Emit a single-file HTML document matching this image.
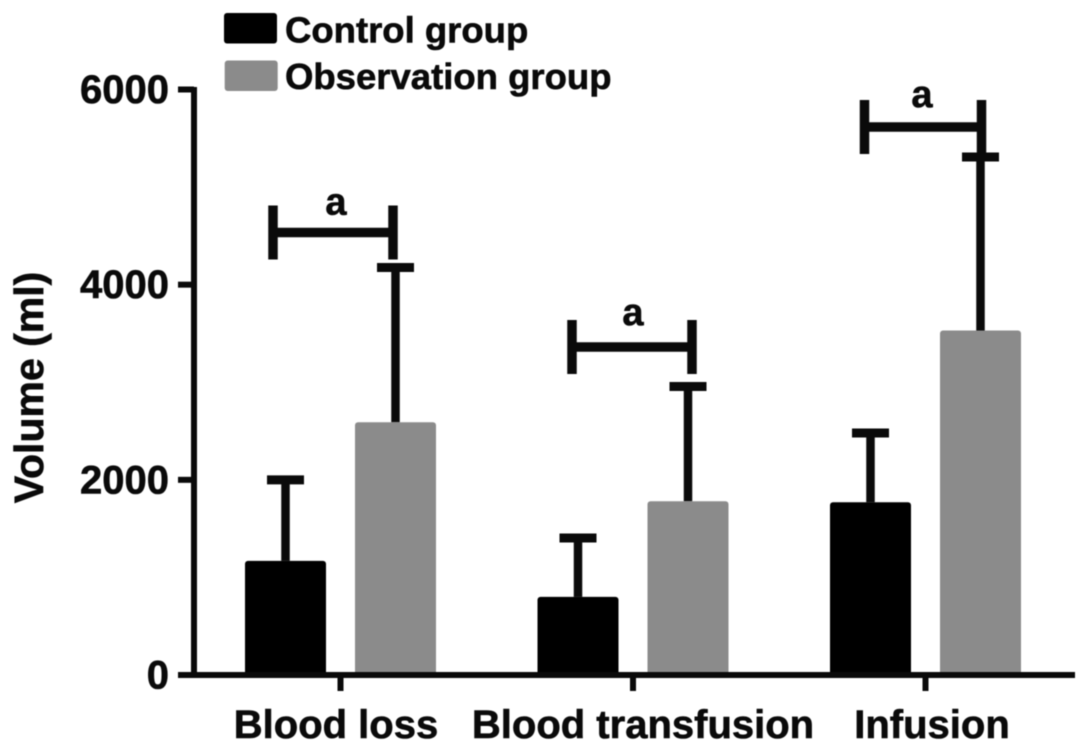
<!DOCTYPE html>
<html>
<head>
<meta charset="utf-8">
<style>
html,body{margin:0;padding:0;background:#fff;}
svg{display:block;filter:blur(0.5px);}
text{font-family:"Liberation Sans",Arial,sans-serif;font-weight:bold;fill:#0a0a0a;stroke:#0a0a0a;stroke-width:0.6px;}
</style>
</head>
<body>
<svg id="chart" width="1087" height="751" viewBox="0 0 1087 751" xmlns="http://www.w3.org/2000/svg"></svg>
<script>
const categories = ["Blood loss", "Blood transfusion", "Infusion"];
const seriesNames = ["Control group", "Observation group"];
const controlMeans = [1170, 800, 1770];
const controlErrors = [2000, 1404, 2480];
const observationMeans = [2590, 1780, 3530];
const observationErrors = [4176, 2956, 5308];
const tickValues = [0, 2000, 4000, 6000];
const sigBracketValues = [4535, 3361, 5616];
const sigLabels = ["a", "a", "a"];

const svg = document.getElementById('chart');
const NS = 'http://www.w3.org/2000/svg';
const ink = '#0a0a0a';
const colors = ['#000000', '#8b8b8b'];
const y = v => 675 - v * (675 - 89.5) / 6000;
const groupCenter = i => 340.5 + i * 292.5;
const barX = (i, s) => groupCenter(i) + (s === 0 ? -55 : 55);
const barW = 81;
const labelCenter = i => [337, 644, 933][i];
const bracketLeftNudge = i => [-12.5, -6, -6][i];
const bracketRightNudge = i => [-2.5, 4, 1][i];
const bracketTextNudgeX = i => [3, 1, -1][i];
const bracketTextNudgeY = i => [-18, -22, -20][i];

function add(tag, attrs, txt) {
  const el = document.createElementNS(NS, tag);
  for (const k in attrs) el.setAttribute(k, attrs[k]);
  if (txt !== undefined) el.textContent = txt;
  svg.appendChild(el);
  return el;
}
function line(x1, y1, x2, y2, w, c) {
  return add('line', {x1, y1, x2, y2, stroke: c || ink, 'stroke-width': w});
}

const means = [controlMeans, observationMeans];
const errs = [controlErrors, observationErrors];

categories.forEach((cat, i) => {
  [0, 1].forEach(s => {
    const cx = barX(i, s);
    const e1 = line(cx, y(means[s][i]), cx, y(errs[s][i]), 8.5);
    
    
    const e2 = line(cx - 18.5, y(errs[s][i]), cx + 18.5, y(errs[s][i]), 9);
    
    
    const b = add('rect', {x: cx - barW / 2, y: y(means[s][i]), width: barW, height: y(0) - y(means[s][i]), fill: colors[s], rx: 3});
    
    
  });

  const sy = y(sigBracketValues[i]);
  const left = barX(i, 0) + bracketLeftNudge(i);
  const right = barX(i, 1) + bracketRightNudge(i);
  const sg = add('path', {d: `M${left} ${sy - 27}V${sy + 27}M${left} ${sy}H${right}M${right} ${sy - 27}V${sy + 27}`, fill: 'none', stroke: ink, 'stroke-width': 9.5});
  
  
  const st = add('text', {x: (left + right) / 2 + bracketTextNudgeX(i), y: sy + bracketTextNudgeY(i), 'font-size': 38, 'text-anchor': 'middle'}, sigLabels[i]);
  
  

  const tk = line(groupCenter(i), 675, groupCenter(i), 691, 6);
  
  
  const lb = add('text', {x: labelCenter(i) - 1, y: 738, 'font-size': 40, 'text-anchor': 'middle'}, cat);
  
  
});

const yAxis = line(194, 87, 194, 678, 6);


const xAxis = line(178, 675, 1075, 675, 6);



tickValues.forEach(v => {
  const t = line(178, y(v), 194, y(v), 6);
  
  
  const l = add('text', {x: 169, y: y(v) + 13.5, 'font-size': 40, 'text-anchor': 'end'}, String(v));
  
  
});

const yt = add('text', {x: 0, y: 0, 'font-size': 41, 'text-anchor': 'middle', transform: 'translate(43 387.5) rotate(-90)'}, 'Volume (ml)');



seriesNames.forEach((n, s) => {
  const ly = s === 0 ? 13 : 60.5;
  const r = add('rect', {x: 224 + s * 0.7, y: ly, width: 53, height: 30.5, fill: colors[s], rx: 3});
  
  
  const t = add('text', {x: 285, y: s === 0 ? 42.5 : 89, 'font-size': 36.5}, n);
  
  
});
</script>
</body>
</html>
